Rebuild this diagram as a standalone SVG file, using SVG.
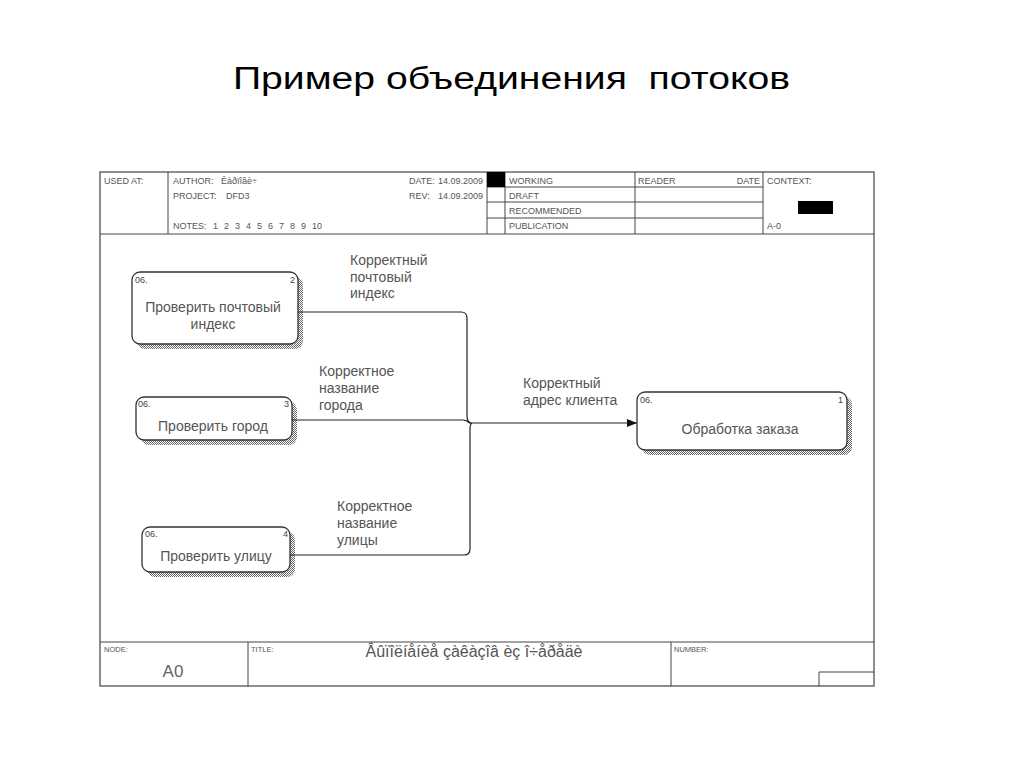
<svg xmlns="http://www.w3.org/2000/svg" width="1024" height="768" viewBox="0 0 1024 768" xml:space="preserve">
<defs>
<pattern id="hatch" width="2" height="2" patternUnits="userSpaceOnUse">
<rect width="2" height="2" fill="#ffffff"/>
<rect width="1" height="1" fill="#666666"/>
<rect x="1" y="1" width="1" height="1" fill="#666666"/>
</pattern>
<marker id="arrow" viewBox="0 0 10 8" refX="10" refY="4" markerWidth="10" markerHeight="8" markerUnits="userSpaceOnUse" orient="auto">
<path d="M0,0 L10,4 L0,8 Z" fill="#111"/>
</marker>
</defs>
<style>
text{font-family:"Liberation Sans",Arial,sans-serif;white-space:pre}
.frame{fill:none;stroke:#444;stroke-width:1.2}
.hl{stroke:#444;stroke-width:1}
.ht{font-size:9px;fill:#555}
.ft{font-size:7.5px;fill:#555}
.box{fill:#fff;stroke:#333;stroke-width:1.3}
.shadow{fill:url(#hatch)}
.bt{font-size:14px;fill:#555;text-anchor:middle}
.bn{font-size:9px;fill:#444}
.lab{font-size:14px;fill:#555}
.conn{fill:none;stroke:#222;stroke-width:1.2}
</style>
<rect width="1024" height="768" fill="#fff"/>
<text x="233" y="89" font-size="31" fill="#000" textLength="557" lengthAdjust="spacingAndGlyphs">Пример объединения  потоков</text>

<g id="frame">
<rect class="frame" x="100" y="172" width="774" height="514"/>
<line class="hl" x1="100" y1="234" x2="874" y2="234"/>
<line class="hl" x1="168" y1="172" x2="168" y2="234"/>
<line class="hl" x1="487" y1="172" x2="487" y2="234"/>
<line class="hl" x1="505" y1="172" x2="505" y2="234"/>
<line class="hl" x1="635" y1="172" x2="635" y2="234"/>
<line class="hl" x1="763" y1="172" x2="763" y2="234"/>
<line class="hl" x1="487" y1="187" x2="763" y2="187"/>
<line class="hl" x1="487" y1="202" x2="763" y2="202"/>
<line class="hl" x1="487" y1="218" x2="763" y2="218"/>
<rect x="487" y="172" width="18" height="15" fill="#000"/>
<rect x="798" y="201" width="35" height="13" fill="#000"/>
<text class="ht" x="104" y="184">USED AT:</text>
<text class="ht" x="173" y="184">AUTHOR:</text>
<text class="ht" x="221" y="184">Êàðïîâè÷</text>
<text class="ht" x="173" y="199">PROJECT:</text>
<text class="ht" x="226" y="199">DFD3</text>
<text class="ht" x="173" y="229">NOTES:</text>
<text class="ht" x="213" y="229" word-spacing="3.5">1 2 3 4 5 6 7 8 9 10</text>
<text class="ht" x="409" y="184">DATE:</text>
<text class="ht" x="438" y="184">14.09.2009</text>
<text class="ht" x="409" y="199">REV:</text>
<text class="ht" x="438" y="199">14.09.2009</text>
<text class="ht" x="509" y="184">WORKING</text>
<text class="ht" x="509" y="199">DRAFT</text>
<text class="ht" x="509" y="214">RECOMMENDED</text>
<text class="ht" x="509" y="229">PUBLICATION</text>
<text class="ht" x="638" y="184">READER</text>
<text class="ht" x="760" y="184" text-anchor="end">DATE</text>
<text class="ht" x="767" y="184">CONTEXT:</text>
<text class="ht" x="767" y="229">A-0</text>
<line class="hl" x1="100" y1="642" x2="874" y2="642"/>
<line class="hl" x1="248" y1="642" x2="248" y2="686"/>
<line class="hl" x1="671" y1="642" x2="671" y2="686"/>
<polyline class="hl" fill="none" points="819,686 819,672 874,672"/>
<text class="ft" x="104" y="652">NODE:</text>
<text x="173" y="677" font-size="17" fill="#666" text-anchor="middle">A0</text>
<text class="ft" x="251" y="652">TITLE:</text>
<text x="474" y="657" font-size="16" fill="#555" text-anchor="middle">Âûïîëíåíèå çàêàçîâ èç î÷åðåäè</text>
<text class="ft" x="674" y="652">NUMBER:</text>
</g>

<g id="node2">
<rect class="shadow" x="137" y="277" width="166" height="72" rx="8"/>
<rect class="box" x="132" y="272" width="166" height="72" rx="8"/>
<text class="bn" x="135" y="283">06.</text>
<text class="bn" x="290" y="283">2</text>
<text class="bt" x="213" y="312">Проверить почтовый</text>
<text class="bt" x="213" y="329">индекс</text>
</g>

<g id="node3">
<rect class="shadow" x="141" y="402" width="156" height="43" rx="8"/>
<rect class="box" x="136" y="397" width="156" height="43" rx="8"/>
<text class="bn" x="138" y="407">06.</text>
<text class="bn" x="284" y="407">3</text>
<text class="bt" x="213" y="431">Проверить город</text>
</g>

<g id="node4">
<rect class="shadow" x="147" y="532" width="148" height="45" rx="8"/>
<rect class="box" x="142" y="527" width="148" height="45" rx="8"/>
<text class="bn" x="145" y="537">06.</text>
<text class="bn" x="283" y="537">4</text>
<text class="bt" x="216" y="561">Проверить улицу</text>
</g>

<g id="node1">
<rect class="shadow" x="642" y="397" width="210" height="58" rx="8"/>
<rect class="box" x="637" y="392" width="210" height="58" rx="8"/>
<text class="bn" x="640" y="403">06.</text>
<text class="bn" x="838" y="403">1</text>
<text class="bt" x="740" y="434">Обработка заказа</text>
</g>

<g id="connectors">
<path class="conn" d="M298,312 H461 Q467,312 467,318 V416 Q467,422 471,423"/>
<path class="conn" d="M292,420 H463 Q467,420 469,423"/>
<path class="conn" d="M290,555 H464 Q470,555 470,549 V429 Q470,424 472,423"/>
<path class="conn" d="M469,423 H637" marker-end="url(#arrow)"/>
<text class="lab" x="350" y="265">Корректный</text>
<text class="lab" x="350" y="282">почтовый</text>
<text class="lab" x="350" y="298">индекс</text>
<text class="lab" x="319" y="376">Корректное</text>
<text class="lab" x="319" y="393">название</text>
<text class="lab" x="319" y="410">города</text>
<text class="lab" x="523" y="388">Корректный</text>
<text class="lab" x="523" y="405">адрес клиента</text>
<text class="lab" x="337" y="511">Корректное</text>
<text class="lab" x="337" y="528">название</text>
<text class="lab" x="337" y="545">улицы</text>
</g>
</svg>
